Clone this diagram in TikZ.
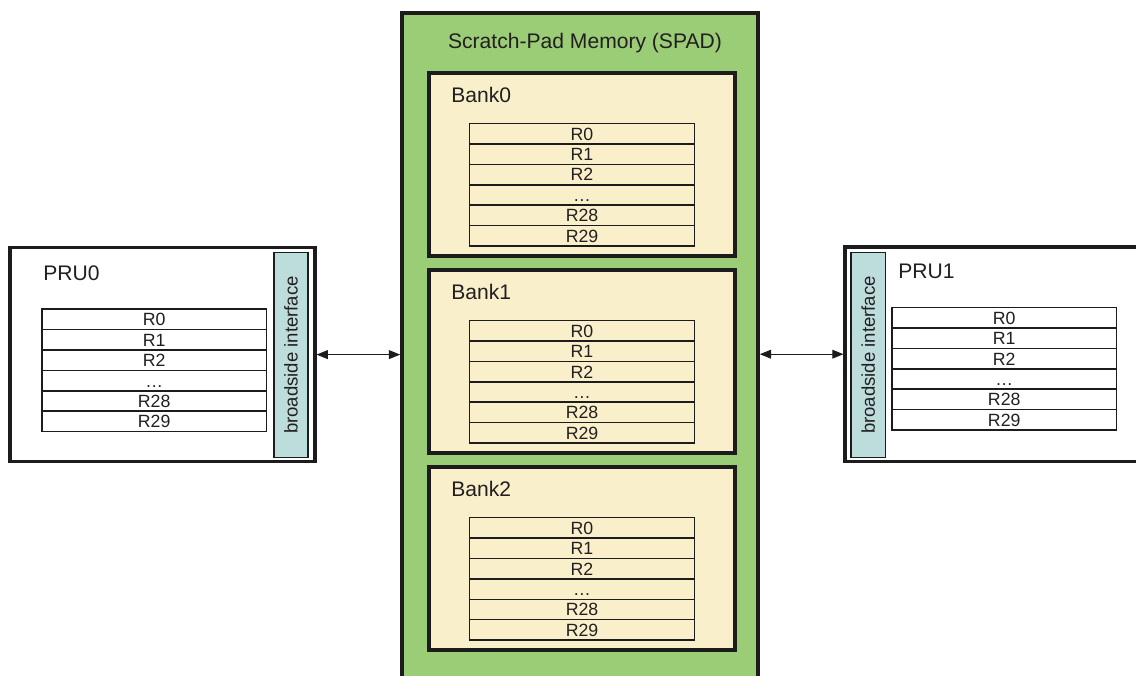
\documentclass[tikz,border=0pt]{standalone}
\usepackage{fontspec}
\setmainfont{Liberation Sans}
\usetikzlibrary{arrows.meta, positioning, calc}
\definecolor{spadgreen}{HTML}{9ACD75}
\definecolor{bankbg}{HTML}{F9F0CB}
\definecolor{sidebg}{HTML}{BDDCDC}
\definecolor{edge}{HTML}{1C1C1C}
\definecolor{ink}{HTML}{231F20}
\newcommand{\regfile}[2]{%
  \foreach \lbl [count=\i from 0] in {R0,R1,R2,\dots,R28,R29}
    \node[reg] (#1\i) at ($(#2)+(0,-0.51*\i)$) {\lbl};
}

\begin{document}
\begin{tikzpicture}[
    every node/.style={text=ink},
    spad/.style={rectangle, draw=edge, fill=spadgreen, line width=2.6pt,
                 minimum width=8.9cm, minimum height=17.2cm},
    bank/.style={rectangle, draw=edge, fill=bankbg, line width=2.2pt,
                 minimum width=7.65cm, minimum height=4.575cm},
    pru/.style={rectangle, draw=edge, fill=white, line width=2.2pt,
                minimum width=7.625cm, minimum height=5.36cm},
    bside/.style={rectangle, draw=edge, fill=sidebg, line width=1.1pt, rotate=90,
                  minimum width=5.12cm, minimum height=0.86cm, inner sep=0pt,
                  font=\fontsize{13.2}{13.2}\selectfont},
    reg/.style={rectangle, draw=edge, line width=1pt, inner sep=0pt,
                minimum width=5.62cm, minimum height=0.51cm,
                text height=0.32cm, text depth=0pt,
                font=\fontsize{12.6}{12.6}\selectfont},
    title/.style={inner sep=0pt, font=\fontsize{15}{15}\selectfont},
    link/.style={{Triangle[length=2.8mm, width=2.2mm]}-{Triangle[length=2.8mm, width=2.2mm]},
                 line width=0.7pt, draw=edge}
]
    \useasboundingbox (0,0) rectangle (28.4,16.875);

    \node[spad]  (spad)  at (14.5,7.95)      {};
    \node[title] (spadt) at (14.625,15.8)    {Scratch-Pad Memory (SPAD)};

    \node[bank]  (bank0) at (14.55,12.7625)  {};
    \node[bank]  (bank1) at (14.55,7.8375)   {};
    \node[bank]  (bank2) at (14.55,2.9125)   {};
    \node[title, anchor=west] (bank0t) at ($(bank0.north west)+(0.59,-0.6)$) {Bank0};
    \node[title, anchor=west] (bank1t) at ($(bank1.north west)+(0.59,-0.6)$) {Bank1};
    \node[title, anchor=west] (bank2t) at ($(bank2.north west)+(0.59,-0.6)$) {Bank2};
    \regfile{b0r}{14.55,13.53}
    \regfile{b1r}{14.55,8.605}
    \regfile{b2r}{14.55,3.68}

    \node[pru]   (pru0)  at (4.0625,8.01)    {};
    \node[bside] (bs0)   at (7.275,8.0)      {broadside interface};
    \node[title, anchor=west] (pru0t) at (1.075,10.05) {PRU0};
    \regfile{p0r}{3.855,8.89}

    \node[pru]   (pru1)  at (24.9375,8.02)   {};
    \node[bside] (bs1)   at (21.705,8.0)     {broadside interface};
    \node[title, anchor=west] (pru1t) at (22.45,10.08) {PRU1};
    \regfile{p1r}{25.105,8.93}

    \draw[link] (pru0.east) -- (pru0.east -| spad.west);
    \draw[link] (pru1.west) -- (pru1.west -| spad.east);
\end{tikzpicture}
\end{document}
